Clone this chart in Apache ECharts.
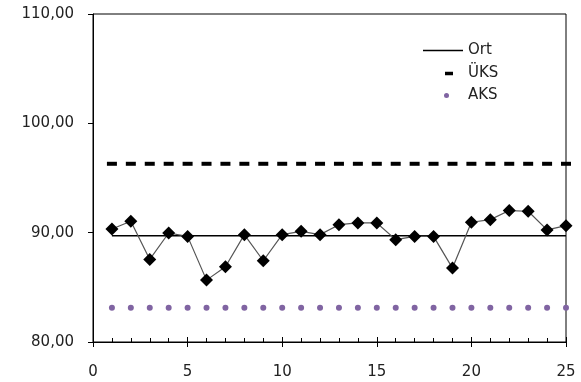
<!DOCTYPE html>
<html>
<head>
<meta charset="utf-8">
<script src="https://cdn.jsdelivr.net/npm/echarts@6/dist/echarts.min.js"></script>
<style>html,body{margin:0;padding:0;background:#fff}#c{width:581px;height:382px}</style>
</head>
<body>
<div id="c"></div>
<script>
const xs = [1,2,3,4,5,6,7,8,9,10,11,12,13,14,15,16,17,18,19,20,21,22,23,24,25];
const values = [90.34,91.04,87.55,89.97,89.66,85.66,86.88,89.82,87.43,89.82,90.12,89.82,90.73,90.89,90.89,89.36,89.66,89.66,86.76,90.95,91.19,92.02,91.96,90.25,90.64];
const ort = [89.72,89.72,89.72,89.72,89.72,89.72,89.72,89.72,89.72,89.72,89.72,89.72,89.72,89.72,89.72,89.72,89.72,89.72,89.72,89.72,89.72,89.72,89.72,89.72,89.72];
const uks = [96.3,96.3,96.3,96.3,96.3,96.3,96.3,96.3,96.3,96.3,96.3,96.3,96.3,96.3,96.3,96.3,96.3,96.3,96.3,96.3,96.3,96.3,96.3,96.3,96.3];
const aks = [83.14,83.14,83.14,83.14,83.14,83.14,83.14,83.14,83.14,83.14,83.14,83.14,83.14,83.14,83.14,83.14,83.14,83.14,83.14,83.14,83.14,83.14,83.14,83.14,83.14];
const legendNames = ['Ort','ÜKS','AKS'];

const pairs = arr => xs.map((x,i)=>[x, arr[i]]);
const font = 'DejaVu Sans';
const chart = echarts.init(document.getElementById('c'), null, {renderer:'canvas'});
const legendText = {fontFamily: font, fontSize: 15, color: '#222'};
chart.setOption({
  animation: false,
  grid: {left: 93, right: 15, top: 14, bottom: 40, show: true, borderColor: '#000', borderWidth: 1},
  legend: [
    {data:[legendNames[0]], left: 423, top: 43, padding: 0, icon: 'rect', itemWidth: 40, itemHeight: 1.3,
     itemStyle:{color:'#000'}, textStyle: legendText, selectedMode:false},
    {data:[legendNames[1]], left: 445, top: 66, padding: 0, icon: 'rect', itemWidth: 8, itemHeight: 3.5,
     itemStyle:{color:'#000'}, textStyle: Object.assign({padding:[0,0,0,10]}, legendText), selectedMode:false},
    {data:[legendNames[2]], left: 444, top: 88, padding: 0, icon: 'circle', itemWidth: 5, itemHeight: 5,
     itemStyle:{color:'#8064A2'}, textStyle: Object.assign({padding:[0,0,0,14]}, legendText), selectedMode:false}
  ],
  xAxis: [
    {type:'value', min:0, max:25, interval:5, position:'bottom',
     axisLine:{show:true, lineStyle:{color:'#000', width:1}},
     axisTick:{show:true, inside:false, length:5, lineStyle:{color:'#000'}},
     splitLine:{show:false},
     axisLabel:{margin:23, fontFamily:font, fontSize:15, color:'#222'}},
    {type:'value', min:0, max:25, interval:5, position:'bottom',
     axisLine:{show:false},
     axisTick:{show:true, inside:true, length:5, lineStyle:{color:'#000'}},
     minorTick:{show:true, splitNumber:5, length:4, lineStyle:{color:'#000'}},
     splitLine:{show:false}, axisLabel:{show:false}}
  ],
  yAxis: {type:'value', min:80, max:110, interval:10,
    axisLine:{show:true, lineStyle:{color:'#000', width:1}},
    axisTick:{show:true, inside:false, length:5, lineStyle:{color:'#000'}},
    splitLine:{show:false},
    axisLabel:{margin:19, fontFamily:font, fontSize:15, color:'#222',
      formatter: v => v.toFixed(2).replace('.', ',')}},
  series: [
    {name:'Werte', type:'line', data:pairs(values), symbol:'diamond', symbolSize:13,
     lineStyle:{color:'#555', width:1.2}, itemStyle:{color:'#000'}, z:5},
    {name:legendNames[0], type:'line', data:pairs(ort), symbol:'none',
     lineStyle:{color:'#000', width:1.3}, itemStyle:{color:'#000'}, z:3},
    {name:legendNames[1], type:'scatter', data:pairs(uks), symbol:'rect', symbolSize:[10,4],
     itemStyle:{color:'#000', opacity:1}},
    {name:legendNames[2], type:'scatter', data:pairs(aks), symbol:'circle', symbolSize:6,
     itemStyle:{color:'#8064A2', opacity:1}}
  ]
});
</script>
</body>
</html>
